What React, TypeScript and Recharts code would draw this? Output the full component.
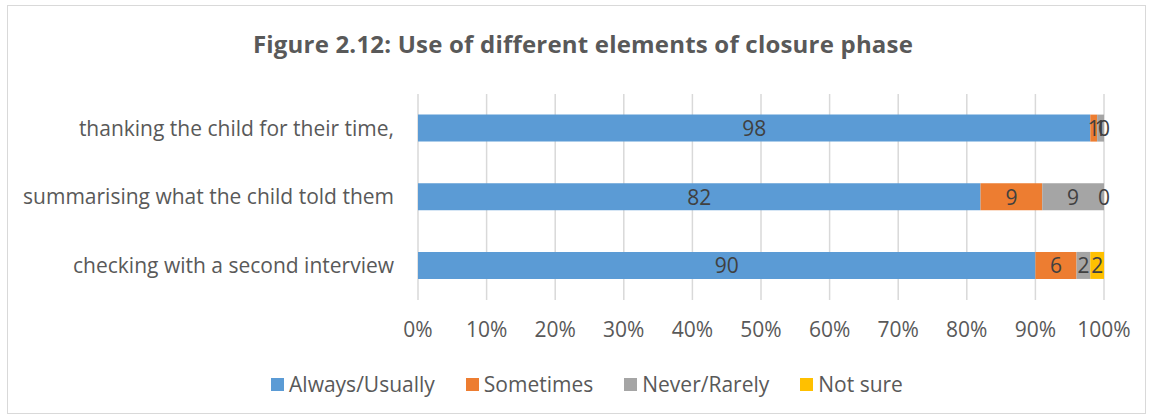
import { BarChart, Bar, XAxis, YAxis, CartesianGrid, LabelList } from 'recharts'

const categories = [
  'thanking the child for their time,',
  'summarising what the child told them',
  'checking with a second interview',
]
const alwaysUsually = [98, 82, 90]
const sometimes = [1, 9, 6]
const neverRarely = [1, 9, 2]
const notSure = [0, 0, 2]

const seriesNames = ['Always/Usually', 'Sometimes', 'Never/Rarely', 'Not sure']
const seriesKeys = ['always', 'sometimes', 'never', 'notSure']
const colors = ['#5B9BD5', '#ED7D31', '#A5A5A5', '#FFC000']
const xTicks = [0, 10, 20, 30, 40, 50, 60, 70, 80, 90, 100]

const FONT = '"Open Sans", sans-serif'
const TEXT = '#595959'
const FS = 21

const data = categories.map((name, i) => ({
  name,
  always: alwaysUsually[i],
  sometimes: sometimes[i],
  never: neverRarely[i],
  notSure: notSure[i],
}))

// label drawn at the segment centre
const SegLabel = (props: any) => {
  const { x, y, width, height, value } = props
  if (value == null) return null
  return (
    <text
      x={Number(x) + Number(width) / 2}
      y={Number(y) + Number(height) / 2}
      textAnchor="middle"
      dominantBaseline="central"
      fill="#404040"
      fontSize={FS}
      fontFamily={FONT}
    >
      {value}
    </text>
  )
}

// zero "Not sure" values sit at the end of the grey segment
const ZeroLabel = (props: any) => {
  const { x, y, width, height, value } = props
  if (value !== 0) return null
  return (
    <text
      x={Number(x) + Number(width)}
      y={Number(y) + Number(height) / 2}
      textAnchor="middle"
      dominantBaseline="central"
      fill="#404040"
      fontSize={FS}
      fontFamily={FONT}
    >
      {value}
    </text>
  )
}

export default function App() {
  return (
    <div style={{ position: 'absolute', left: 0, top: 0, width: 1152, height: 419, background: '#fff', fontFamily: FONT }}>
      <div
        style={{
          position: 'absolute',
          left: 7,
          top: 5,
          width: 1137,
          height: 407,
          border: '1px solid #d9d9d9',
        }}
      />
      <div
        style={{
          position: 'absolute',
          left: 0,
          width: 1166,
          top: 27,
          textAlign: 'center',
          fontSize: 24,
          fontWeight: 700,
          color: TEXT,
          letterSpacing: 0.2,
        }}
      >
        Figure 2.12: Use of different elements of closure phase
      </div>
      <div style={{ position: 'absolute', left: 0, top: 0 }}>
        <BarChart
          width={1152}
          height={419}
          data={data}
          layout="vertical"
          barCategoryGap="30%"
          margin={{ top: 94, right: 48, bottom: 89, left: 18 }}
        >
          <CartesianGrid horizontal={false} stroke="#d9d9d9" strokeWidth={1.5} />
          <XAxis
            type="number"
            domain={[0, 100]}
            ticks={xTicks}
            tickFormatter={(v: number) => `${v}%`}
            axisLine={false}
            tickLine={false}
            tickSize={0}
            tickMargin={22}
            height={30}
            interval={0}
            tick={{ fill: TEXT, fontSize: FS, fontFamily: FONT }}
          />
          <YAxis
            type="category"
            dataKey="name"
            width={400}
            axisLine={false}
            tickLine={false}
            tickSize={0}
            tickMargin={24}
            tick={{ fill: TEXT, fontSize: FS, fontFamily: FONT }}
          />
          {seriesKeys.map((k, i) => (
            <Bar key={k} dataKey={k} name={seriesNames[i]} stackId="a" fill={colors[i]} isAnimationActive={false}>
              {k !== 'notSure' && <LabelList dataKey={k} content={SegLabel} />}
              {k === 'never' && <LabelList dataKey="notSure" content={ZeroLabel} />}
              {k === 'notSure' && <LabelList dataKey={k} content={(p: any) => (p.value ? SegLabel(p) : null)} />}
            </Bar>
          ))}
        </BarChart>
      </div>
      <div style={{ position: 'absolute', top: 370, left: 0, width: 1174, display: 'flex', justifyContent: 'center', gap: 31, fontSize: FS, color: TEXT }}>
        {seriesNames.map((n, i) => (
          <div key={n} style={{ display: 'flex', alignItems: 'center' }}>
            <span style={{ width: 13, height: 13, background: colors[i], marginRight: 5, display: 'inline-block' }} />
            <span>{n}</span>
          </div>
        ))}
      </div>
    </div>
  )
}
